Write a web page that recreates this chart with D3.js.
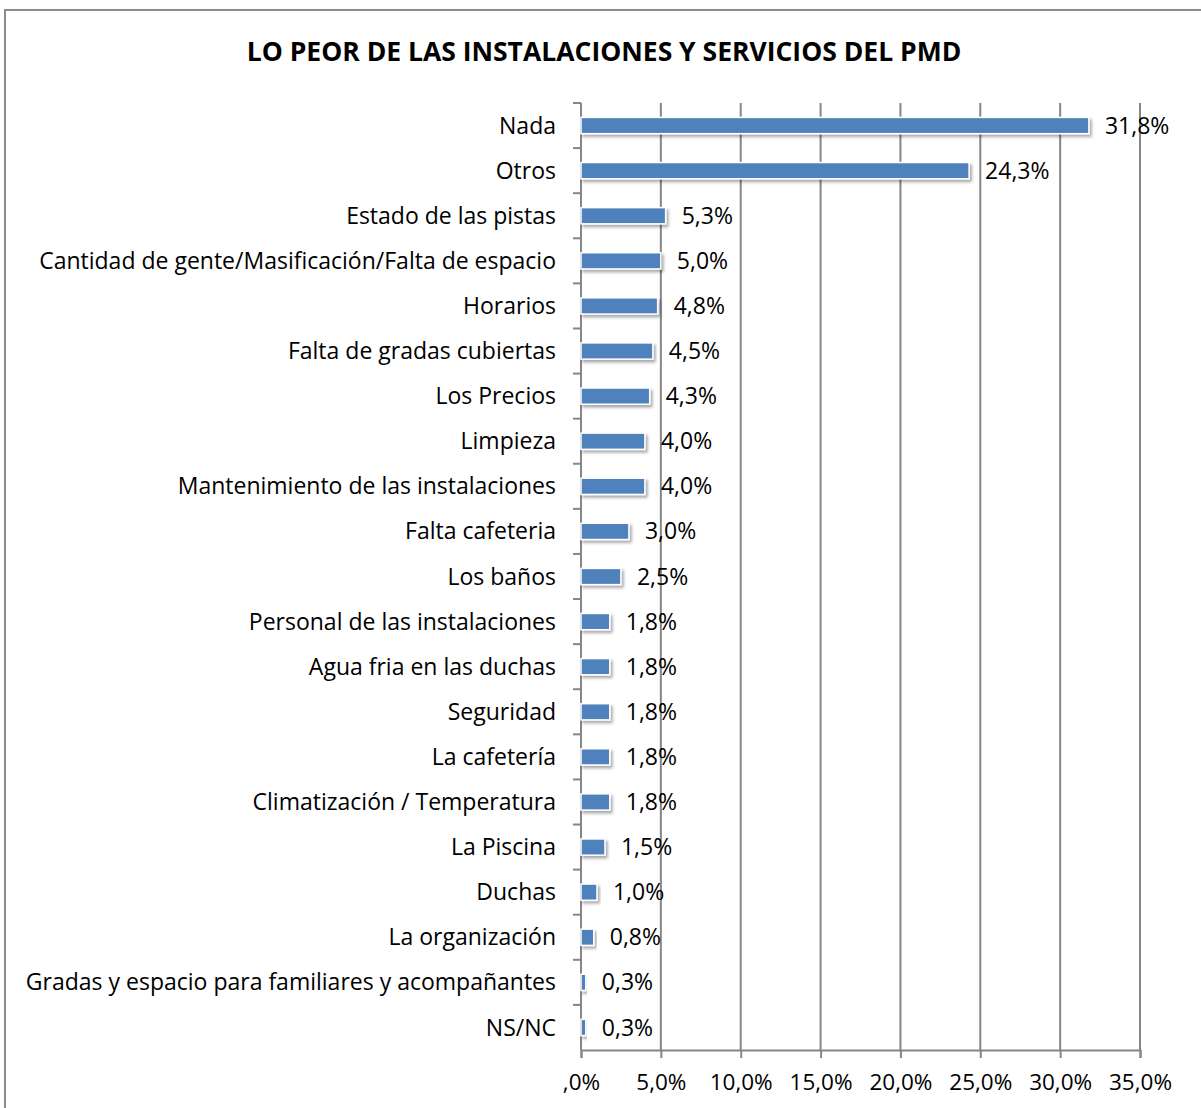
<!DOCTYPE html>
<html>
<head>
<meta charset="utf-8">
<script src="https://cdn.jsdelivr.net/npm/d3@7"></script>
<style>
  body { margin: 0; background: #fff; }
  svg { display: block; }
  text { font-family: "Open Sans", "Noto Sans", sans-serif; fill: #000; }
</style>
</head>
<body>
<div id="chart"></div>
<script>
// data
var categories = [
  'Nada',
  'Otros',
  'Estado de las pistas',
  'Cantidad de gente/Masificación/Falta de espacio',
  'Horarios',
  'Falta de gradas cubiertas',
  'Los Precios',
  'Limpieza',
  'Mantenimiento de las instalaciones',
  'Falta cafeteria',
  'Los baños',
  'Personal de las instalaciones',
  'Agua fria en las duchas',
  'Seguridad',
  'La cafetería',
  'Climatización / Temperatura',
  'La Piscina',
  'Duchas',
  'La organización',
  'Gradas y espacio para familiares y acompañantes',
  'NS/NC'
];
var values = [31.8, 24.3, 5.3, 5.0, 4.8, 4.5, 4.3, 4.0, 4.0, 3.0, 2.5, 1.8, 1.8, 1.8, 1.8, 1.8, 1.5, 1.0, 0.8, 0.3, 0.3];
var xTicks = [0, 5, 10, 15, 20, 25, 30, 35];
var title = 'LO PEOR DE LAS INSTALACIONES Y SERVICIOS DEL PMD';

var W = 1201, H = 1108;
var plot = { left: 581, right: 1140, top: 103, bottom: 1050 };

var svg = d3.select('#chart').append('svg')
  .attr('width', W)
  .attr('height', H);

// bar shadow
var defs = svg.append('defs');
var f = defs.append('filter').attr('id', 'shadow')
  .attr('x', '-20%').attr('y', '-40%').attr('width', '140%').attr('height', '200%');
f.append('feDropShadow')
  .attr('dx', 2).attr('dy', 2.5)
  .attr('stdDeviation', 1.5)
  .attr('flood-color', '#000')
  .attr('flood-opacity', 0.35);

// outer frame
svg.append('rect')
  .attr('x', 5).attr('y', 10)
  .attr('width', W + 10).attr('height', H + 10)
  .attr('fill', 'none')
  .attr('stroke', '#8c8c8c')
  .attr('stroke-width', 2);

svg.append('text')
  .attr('x', 604).attr('y', 61)
  .attr('text-anchor', 'middle')
  .style('font-weight', 'bold')
  .style('font-size', '26.5px')
  .text(title);

var x = d3.scaleLinear().domain([0, 35]).range([plot.left, plot.right]);
var y = d3.scaleBand().domain(categories).range([plot.top, plot.bottom]).paddingInner(0.64).paddingOuter(0.32);
var yb = d3.scaleBand().domain(categories).range([plot.top, plot.bottom]);

var pct = function(v) {
  return d3.format('.1f')(v).replace('.', ',') + '%';
};

// gridlines
svg.append('g')
  .selectAll('line')
  .data(xTicks.slice(1))
  .enter().append('line')
    .attr('x1', function(d) { return x(d); })
    .attr('x2', function(d) { return x(d); })
    .attr('y1', plot.top)
    .attr('y2', plot.bottom)
    .attr('stroke', '#868686')
    .attr('stroke-width', 2);

// bottom axis
var xAxis = svg.append('g')
  .attr('transform', 'translate(0,' + plot.bottom + ')')
  .call(d3.axisBottom(x).tickValues(xTicks).tickSize(8).tickPadding(16).tickFormat(function(d) {
    return d === 0 ? ',0%' : pct(d);
  }));
xAxis.select('.domain').attr('stroke', '#868686').attr('stroke-width', 2);
xAxis.selectAll('.tick line').attr('stroke', '#868686').attr('stroke-width', 2);
xAxis.selectAll('text').style('font-size', '22.5px').attr('fill', '#000');

// left axis (ticks at category boundaries)
svg.append('line')
  .attr('x1', plot.left).attr('x2', plot.left)
  .attr('y1', plot.top).attr('y2', plot.bottom)
  .attr('stroke', '#868686').attr('stroke-width', 2);
svg.append('g')
  .selectAll('line')
  .data(categories)
  .enter().append('line')
    .attr('x1', plot.left - 8)
    .attr('x2', plot.left)
    .attr('y1', function(d) { return yb(d); })
    .attr('y2', function(d) { return yb(d); })
    .attr('stroke', '#868686').attr('stroke-width', 2);

// category labels
svg.append('g')
  .selectAll('text')
  .data(categories)
  .enter().append('text')
    .attr('x', plot.left - 25)
    .attr('y', function(d) { return yb(d) + yb.bandwidth() / 2; })
    .attr('dy', '0.35em')
    .attr('text-anchor', 'end')
    .style('font-size', '23px')
    .text(function(d) { return d; });

// bars
svg.append('g')
  .selectAll('rect')
  .data(values)
  .enter().append('rect')
    .attr('x', x(0))
    .attr('y', function(d, i) { return y(categories[i]); })
    .attr('width', function(d) { return x(d) - x(0); })
    .attr('height', y.bandwidth())
    .attr('fill', '#4f81bd')
    .attr('stroke', '#fff')
    .attr('stroke-width', 1.5)
    .attr('filter', 'url(#shadow)');

// value labels
svg.append('g')
  .selectAll('text')
  .data(values)
  .enter().append('text')
    .attr('x', function(d) { return x(d) + 16; })
    .attr('y', function(d, i) { return yb(categories[i]) + yb.bandwidth() / 2; })
    .attr('dy', '0.35em')
    .style('font-size', '23px')
    .text(function(d) { return pct(d); });
</script>
</body>
</html>
